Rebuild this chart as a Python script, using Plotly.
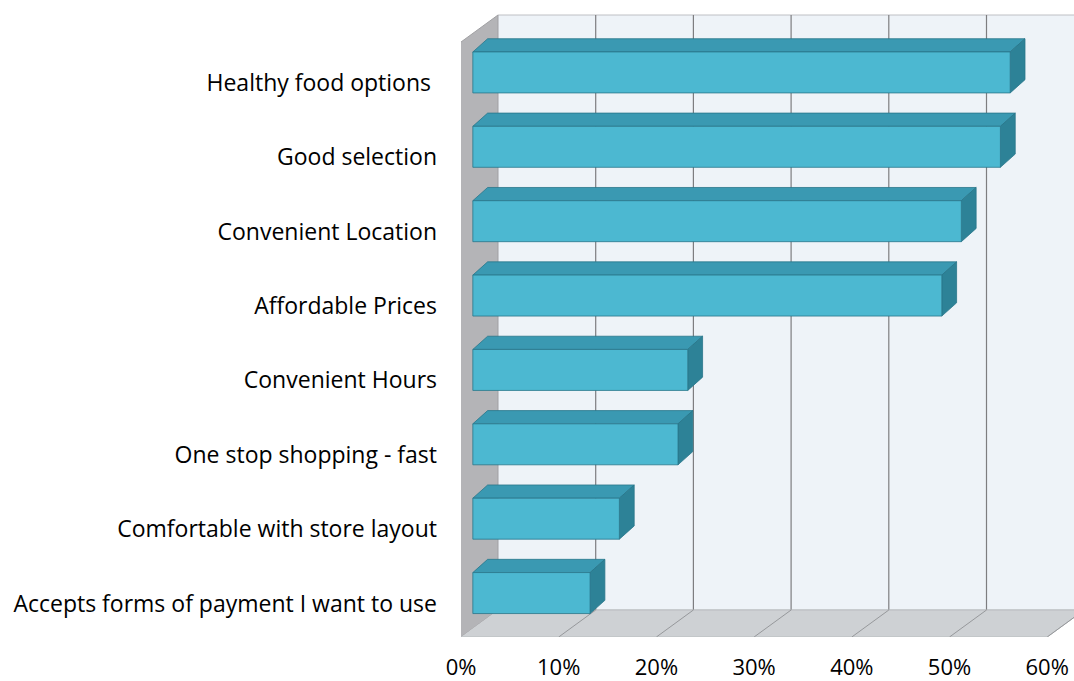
import plotly.graph_objects as go

# Survey responses: share of respondents citing each reason (percent)
categories = [
    "Accepts forms of payment I want to use",
    "Comfortable with store layout",
    "One stop shopping - fast",
    "Convenient Hours",
    "Affordable Prices",
    "Convenient Location",
    "Good selection",
    "Healthy food options\u00a0",
]
values = [12, 15, 21, 22, 48, 50, 54, 55]

pct_ticks = [0, 10, 20, 30, 40, 50, 60]
pct_labels = ["0%", "10%", "20%", "30%", "40%", "50%", "60%"]

# ---- 3-D look: oblique depth vector in axis units ----
PX_PER_PCT = 9.77
PX_PER_CAT = 74.375
DX = 37 / PX_PER_PCT          # depth of the box in x units
DY = 27 / PX_PER_CAT          # depth of the box in y units
AX, AY = 0.32, 0.25           # bar front depth fraction (x / y)
BX, BY = 0.72, 0.74           # bar back depth fraction (x / y)
HALF = 0.551 / 2              # half bar thickness (category units)
XMAX = max(pct_ticks)
N = len(categories)
y_lo, y_hi = -0.5, N - 0.5

FONT = "Open Sans"
BACK_WALL = "rgb(238,243,248)"
SIDE_WALL = "rgb(180,180,183)"
FLOOR = "rgb(206,209,212)"
GRID = "rgb(125,125,128)"
FRONT = "rgb(76,184,209)"
TOP = "rgb(58,153,178)"
SIDE = "rgb(45,130,151)"
EDGE = "rgb(40,118,138)"

fig = go.Figure()


def poly(xs, ys, fill, line=None, width=0):
    fig.add_trace(go.Scatter(
        x=xs, y=ys, mode="lines", fill="toself", fillcolor=fill,
        line=dict(color=line or fill, width=width),
        hoverinfo="skip", showlegend=False))


def segs(xs, ys, color, width=1):
    fig.add_trace(go.Scatter(
        x=xs, y=ys, mode="lines", line=dict(color=color, width=width),
        hoverinfo="skip", showlegend=False))


# back wall
poly([DX, XMAX + 2 * DX, XMAX + 2 * DX, DX],
     [y_lo + DY, y_lo + DY, y_hi + DY, y_hi + DY],
     BACK_WALL, "rgb(190,192,196)", 1)

# back wall gridlines
gx, gy = [], []
for t in pct_ticks[1:]:
    gx += [t + DX, t + DX, None]
    gy += [y_lo + DY, y_hi + DY, None]
segs(gx, gy, GRID, 1.2)

# left side wall
poly([0, DX, DX, 0], [y_lo, y_lo + DY, y_hi + DY, y_hi],
     SIDE_WALL, "rgb(160,160,163)", 1)

# floor
poly([0, XMAX, XMAX + DX, DX], [y_lo, y_lo, y_lo + DY, y_lo + DY],
     FLOOR, "rgb(185,188,191)", 1)

# floor gridlines
fx, fy = [], []
for t in pct_ticks[1:]:
    fx += [t, t + DX, None]
    fy += [y_lo, y_lo + DY, None]
segs(fx, fy, "rgb(150,152,155)", 1)

# bars: front, top and right faces
fxs, fys, txs, tys, rxs, rys = [], [], [], [], [], []
for k, v in enumerate(values):
    x0f, x0b = AX * DX, BX * DX
    yf, yb = k + AY * DY, k + BY * DY
    fxs += [x0f, x0f + v, x0f + v, x0f, x0f, None]
    fys += [yf - HALF, yf - HALF, yf + HALF, yf + HALF, yf - HALF, None]
    txs += [x0f, x0f + v, x0b + v, x0b, x0f, None]
    tys += [yf + HALF, yf + HALF, yb + HALF, yb + HALF, yf + HALF, None]
    rxs += [x0f + v, x0b + v, x0b + v, x0f + v, x0f + v, None]
    rys += [yf - HALF, yb - HALF, yb + HALF, yf + HALF, yf - HALF, None]

poly(txs, tys, TOP, EDGE, 0.8)
poly(rxs, rys, SIDE, EDGE, 0.8)
poly(fxs, fys, FRONT, EDGE, 0.8)

W, H = 1074, 681
ML, MT, MB = 461, 13, 44
plot_w = W - ML
plot_h = H - MT - MB

fig.update_layout(
    width=W, height=H,
    margin=dict(l=ML, r=0, t=MT, b=MB),
    paper_bgcolor="white", plot_bgcolor="white",
    font=dict(family=FONT, size=23, color="black"),
    showlegend=False,
    xaxis=dict(
        range=[0, plot_w / PX_PER_PCT],
        tickvals=pct_ticks, ticktext=pct_labels,
        showgrid=False, zeroline=False, showline=False,
        ticks="", ticklabelstandoff=15, automargin=False,
        tickfont=dict(family=FONT, size=22, color="black"),
        fixedrange=True,
    ),
    yaxis=dict(
        range=[y_lo, y_lo + plot_h / PX_PER_CAT],
        tickvals=[k - 0.05 for k in range(N)], ticktext=categories,
        showgrid=False, zeroline=False, showline=False,
        ticks="", ticklabelstandoff=23, automargin=False,
        tickfont=dict(family=FONT, size=23, color="black"),
        fixedrange=True,
    ),
)

fig.write_html("out.html")
